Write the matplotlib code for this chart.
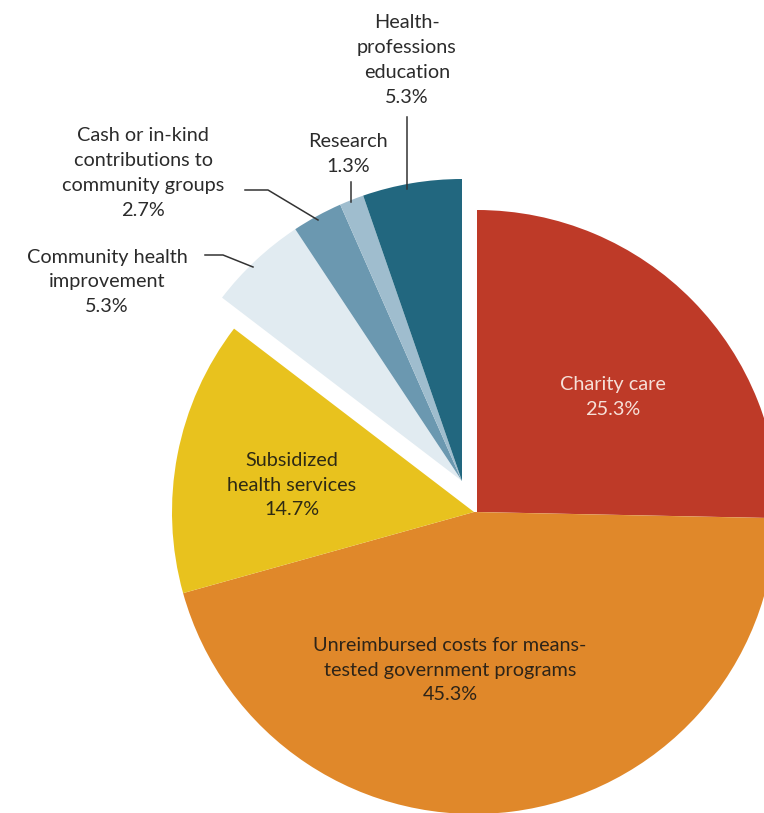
import matplotlib
matplotlib.use("Agg")
import matplotlib.pyplot as plt

# community benefit spending, share of total (%)
categories = [
    "Charity care",
    "Unreimbursed costs for means-\ntested government programs",
    "Subsidized\nhealth services",
    "Community health\nimprovement",
    "Cash or in-kind\ncontributions to\ncommunity groups",
    "Research",
    "Health-\nprofessions\neducation",
]
shares = [25.3, 45.3, 14.7, 5.3, 2.7, 1.3, 5.3]
colors = ["#BE3A28", "#E0882A", "#E8C21E", "#E1EBF1", "#6B98B0", "#9FBDCE", "#22677F"]

W, H = 764, 813
CX, CY, R = 474, H - 512, 302

fig = plt.figure(figsize=(W / 100, H / 100), dpi=100)
ax = fig.add_axes([0, 0, 1, 1])

wedges, _ = ax.pie(shares, colors=colors, radius=R, center=(CX, CY),
                   startangle=90, counterclock=False,
                   wedgeprops=dict(linewidth=0))

# pull charity care to the right, the small group up and to the left
wedges[0].set_center((CX + 3, CY))
for w in wedges[3:]:
    w.set_center((CX - 12, CY + 31))

ax.set_xlim(0, W)
ax.set_ylim(0, H)
ax.set_aspect("equal")
ax.axis("off")

font = dict(family=["Lato", "DejaVu Sans"], fontsize=14.3, ha="center",
            va="center", linespacing=1.55)
txt = [f"{c}\n{s}%" for c, s in zip(categories, shares)]

# label positions in picture pixels (x, y from top)
ax.text(613, H - 397, txt[0], color="#F6E0D8", **font)
ax.text(450, H - 670, txt[1], color="#2E2418", **font)
ax.text(292, H - 485, txt[2], color="#2E2A14", **font)
ax.text(107, H - 282, txt[3], color="#2B2B2B", **font)
ax.text(143, H - 173, txt[4], color="#2B2B2B", **font)
ax.text(348, H - 154, txt[5], color="#2B2B2B", **font)
ax.text(407, H - 60, txt[6], color="#2B2B2B", **font)

line = dict(color="#333333", linewidth=1.1)
ax.plot([407, 407], [H - 117, H - 189], **line)
ax.plot([351, 351], [H - 182, H - 202], **line)
ax.plot([245, 268, 318], [H - 190, H - 190, H - 220], **line)
ax.plot([205, 223, 253], [H - 255, H - 255, H - 267], **line)

fig.savefig("out.png", dpi=100, facecolor="white")
